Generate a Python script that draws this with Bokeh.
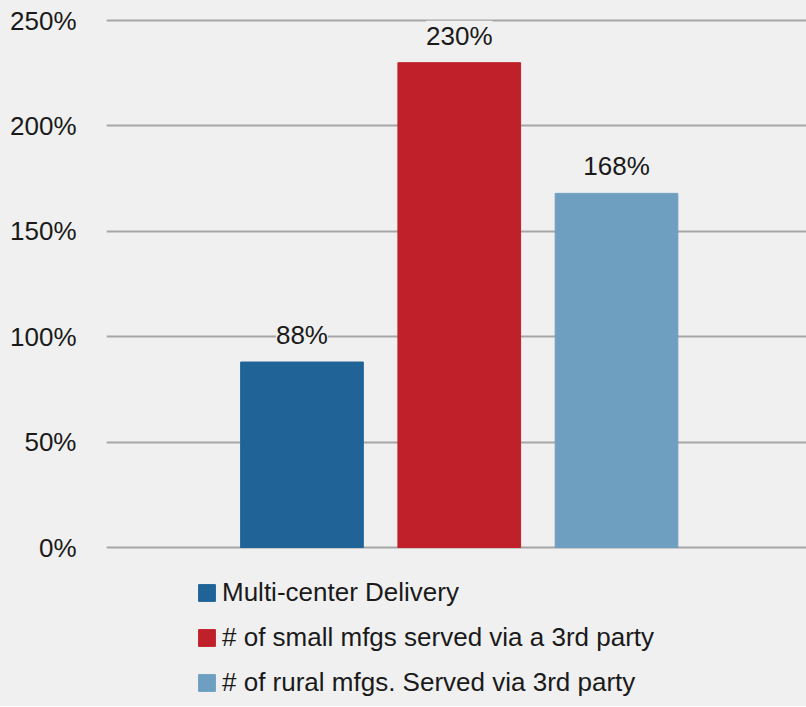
from bokeh.plotting import figure
from bokeh.models import (ColumnDataSource, Range1d, Legend, LegendItem, LabelSet,
                          FixedTicker, PrintfTickFormatter)
from bokeh.core.properties import value
from bokeh.embed import file_html
from bokeh.resources import INLINE

# ---- data ----
series = ["Multi-center Delivery",
          "# of small mfgs served via a 3rd party",
          "# of rural mfgs. Served via 3rd party"]
values = [88, 230, 168]
colors = ["#1f6397", "#c0202a", "#6e9fc1"]
y_ticks = [0, 50, 100, 150, 200, 250]

FONT = "Liberation Sans"
BG = "#f0f0f0"

src = ColumnDataSource(dict(
    x=[i + 1 for i in range(len(series))],
    top=values,
    color=colors,
    name=series,
    label=[f"{v}%" for v in values],
))

p = figure(width=806, height=706, output_backend="svg", toolbar_location=None,
           x_range=Range1d(-0.243, 4.208), y_range=Range1d(-75.4, 257.6),
           background_fill_color=BG, border_fill_color=BG,
           min_border_left=106, min_border_right=0, min_border_top=4,
           min_border_bottom=0)
p.outline_line_color = None
p.styles = {"background-color": BG}

r = p.vbar(x="x", top="top", width=0.78, bottom=0, color="color", source=src)

p.xaxis.visible = False
p.xgrid.visible = False
p.ygrid.grid_line_color = "#a6a6a6"
p.ygrid.grid_line_width = 2

ya = p.yaxis[0]
ya.ticker = FixedTicker(ticks=y_ticks)
ya.formatter = PrintfTickFormatter(format="%d%%")
ya.axis_line_color = None
ya.major_tick_line_color = None
ya.minor_tick_line_color = None
ya.major_label_standoff = 24
ya.major_label_text_font = FONT
ya.major_label_text_font_size = "26px"
ya.major_label_text_color = "#1a1a1a"
p.ygrid.ticker = ya.ticker

labels = LabelSet(x="x", y="top", text="label", source=src,
                  text_align="center", text_baseline="alphabetic", y_offset=18,
                  text_font=value(FONT), text_font_size=value("26px"),
                  text_color="#1a1a1a", background_fill_color=BG)
p.add_layout(labels)

items = [LegendItem(label=series[i], renderers=[r], index=i) for i in range(len(series))]
legend = Legend(items=items, location=(90, 8), orientation="vertical",
                label_text_font=FONT, label_text_font_size="26px",
                label_text_color="#1a1a1a",
                glyph_height=21, glyph_width=21, label_standoff=5,
                spacing=14, padding=0, margin=0,
                background_fill_alpha=0, border_line_color=None)
p.add_layout(legend)

open("out.html", "w").write(file_html(p, INLINE))
